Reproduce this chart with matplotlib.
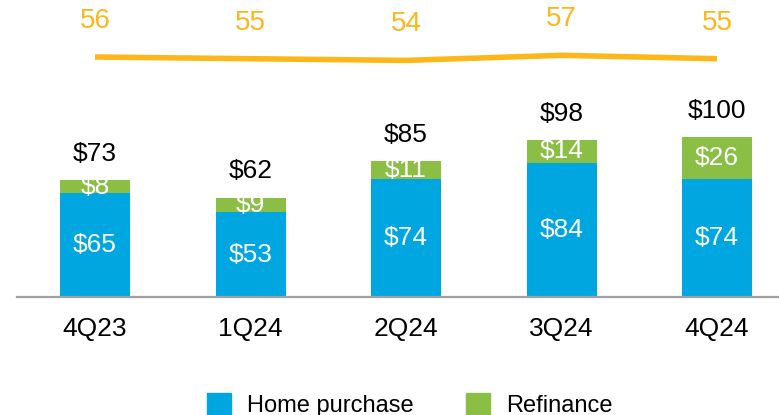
import numpy as np
import matplotlib
matplotlib.use('Agg')
import matplotlib.pyplot as plt
from matplotlib.patches import Patch

plt.rcParams['font.family'] = ['Liberation Sans', 'DejaVu Sans']

quarters = ['4Q23', '1Q24', '2Q24', '3Q24', '4Q24']
home_purchase = [65, 53, 74, 84, 74]
refinance = [8, 9, 11, 14, 26]
totals = [73, 62, 85, 98, 100]
line_vals = [56, 55, 54, 57, 55]

blue = '#00A6E0'
green = '#8BBE45'
orange = '#FDB71A'

fig = plt.figure(figsize=(7.79, 4.15), dpi=100)
W, H = 779, 415
base_px = 297
ax = fig.add_axes([0, (H - base_px) / H, 1, base_px / H])

x = np.arange(len(quarters))
step = 155.5
x0 = 95
ax.set_xlim(-x0 / step, (W - x0) / step)
ax.set_ylim(0, base_px / 1.6)
bw = 70 / step

ax.bar(x, home_purchase, bw, color=blue)
ax.bar(x, refinance, bw, bottom=home_purchase, color=green)

for i in range(len(x)):
    ax.text(x[i], home_purchase[i] / 2, f'${home_purchase[i]}', ha='center', va='center',
            color='white', fontsize=19)
    ax.text(x[i], home_purchase[i] + refinance[i] / 2, f'${refinance[i]}', ha='center',
            va='center', color='white', fontsize=19)
    ax.annotate(f'${totals[i]}', (x[i], totals[i]), xytext=(0, 19), textcoords='offset points',
                ha='center', va='center', fontsize=19, color='black')
    ax.text(x[i], -20, quarters[i], ha='center', va='center', fontsize=19, color='black')

ax.axhline(0, xmin=17 / W, xmax=1, color='#A0A0A0', lw=1.6, clip_on=False)
for s in ax.spines.values():
    s.set_visible(False)
ax.set_xticks([])
ax.set_yticks([])
ax.patch.set_alpha(0)

# line on its own scale
ax2 = ax.twinx()
ax2.set_xlim(ax.get_xlim())
pxu = 1.7
ax2.set_ylim(56 - (base_px - 57) / pxu, 56 + 57 / pxu)
ax2.plot(x, line_vals, color=orange, lw=4, solid_capstyle='butt')
for i in range(len(x)):
    ax2.annotate(str(line_vals[i]), (x[i], line_vals[i]), xytext=(0, 26),
                 textcoords='offset points', ha='center', va='center',
                 fontsize=20, color=orange)
ax2.set_yticks([])
for s in ax2.spines.values():
    s.set_visible(False)

handles = [Patch(color=blue, label='Home purchase'), Patch(color=green, label='Refinance')]
fig.legend(handles=handles, loc='center', bbox_to_anchor=(410 / W, 1 - 405 / H), ncol=2,
           frameon=False, fontsize=17, handlelength=1.02, handleheight=1.02,
           handletextpad=0.68, columnspacing=2.2, borderpad=0, borderaxespad=0)

fig.savefig('out.png', dpi=100)
